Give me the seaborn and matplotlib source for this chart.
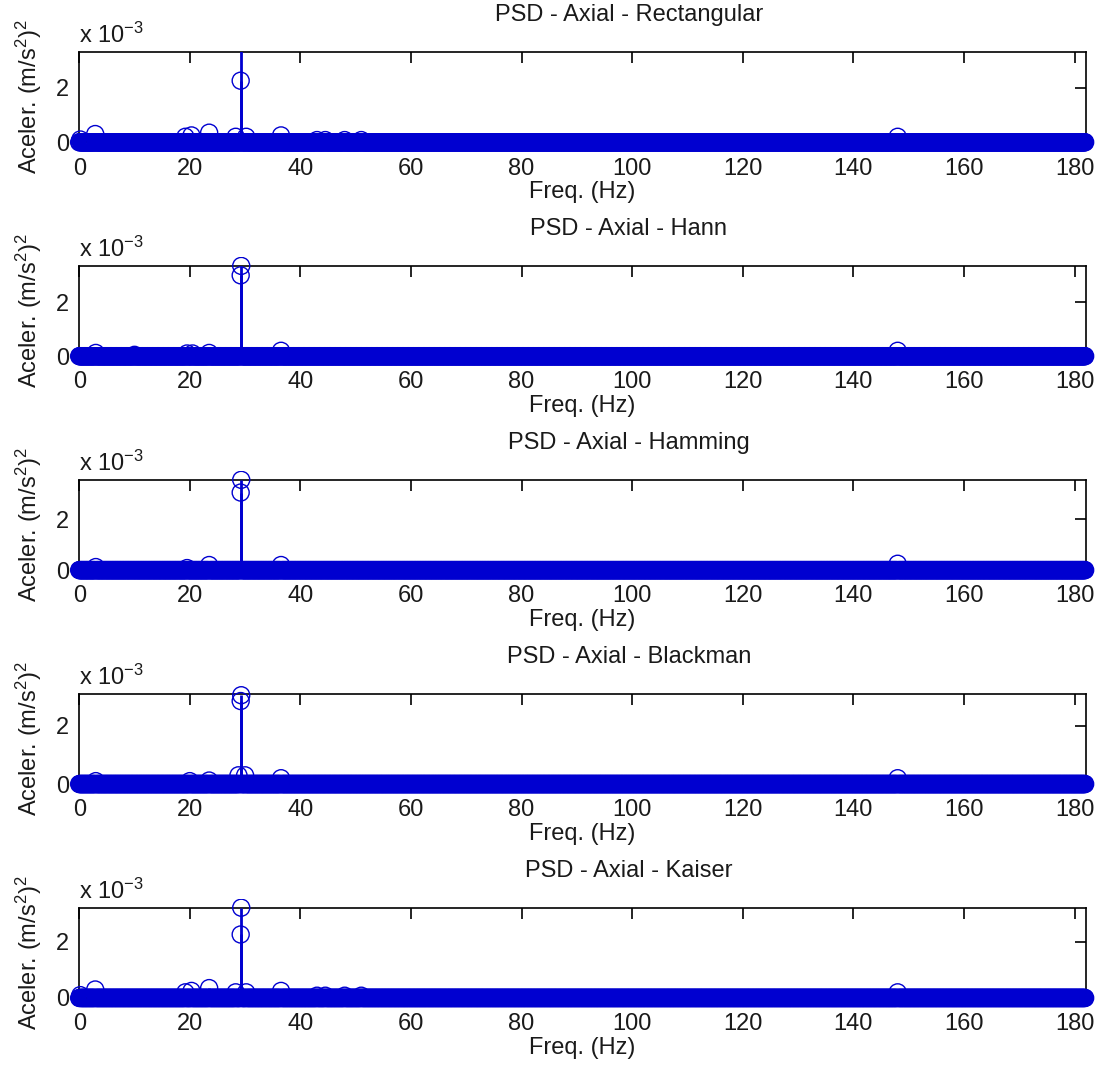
import numpy as np
import pandas as pd
import matplotlib
matplotlib.use('Agg')
import matplotlib.pyplot as plt
from matplotlib.patches import Rectangle
import seaborn as sns

# ------------------------------------------------------------
# data (PSD values in units of 1e-3 (m/s^2)^2)
# ------------------------------------------------------------
freq_step = 0.1          # Hz, spectral resolution
n_bins = 1820            # 0 ... 181.9 Hz

windows = ['Rectangular', 'Hann', 'Hamming', 'Blackman', 'Kaiser']

# (frequency, value) of the bins that stand out from the floor
peaks_rect = [(0.2, 0.10), (2.9, 0.30), (19.2, 0.20), (20.3, 0.25), (23.5, 0.35),
              (28.3, 0.20), (29.2, 2.25), (29.3, 4.00), (30.2, 0.20), (36.5, 0.25),
              (43.0, 0.08), (44.5, 0.08), (48.0, 0.08), (51.0, 0.08), (148.0, 0.20)]
peaks_hann = [(3.0, 0.12), (10.0, 0.05), (19.5, 0.10), (20.5, 0.10), (23.5, 0.12),
              (29.2, 3.00), (29.3, 3.35), (36.5, 0.20), (148.0, 0.20)]
peaks_hamming = [(3.0, 0.12), (19.5, 0.08), (23.5, 0.20), (29.2, 3.05), (29.3, 3.55),
                 (36.5, 0.20), (148.0, 0.25)]
peaks_blackman = [(3.0, 0.10), (20.0, 0.10), (23.5, 0.12), (28.8, 0.30), (29.2, 2.85),
                  (29.3, 3.05), (30.0, 0.30), (36.5, 0.20), (148.0, 0.20)]
peaks_kaiser = [(0.2, 0.10), (2.9, 0.30), (19.2, 0.20), (20.3, 0.25), (23.5, 0.35),
                (28.3, 0.20), (29.2, 2.25), (29.3, 3.20), (30.2, 0.20), (36.5, 0.25),
                (43.0, 0.08), (44.5, 0.08), (48.0, 0.08), (51.0, 0.08), (148.0, 0.20)]
all_peaks = [peaks_rect, peaks_hann, peaks_hamming, peaks_blackman, peaks_kaiser]

y_tops = [3.3, 3.35, 3.55, 3.1, 3.2]
x_ticks = [0, 20, 40, 60, 80, 100, 120, 140, 160, 180]
y_ticks = [0, 2]

freq = np.arange(n_bins) * freq_step

# ------------------------------------------------------------
# figure
# ------------------------------------------------------------
sns.set_style('white')
plt.rcParams['font.family'] = ['Liberation Sans', 'DejaVu Sans']
plt.rcParams['mathtext.fontset'] = 'custom'
plt.rcParams['mathtext.rm'] = 'Liberation Sans'
plt.rcParams['mathtext.it'] = 'Liberation Sans'

BLUE = '#0000d0'
TXT = '#1a1a1a'
FS = 17

fig, axes = plt.subplots(5, 1, figsize=(11, 10.74), dpi=100)
fig.subplots_adjust(left=0.072, right=0.987, top=0.9516, bottom=0.0708, hspace=1.37)

for ax, name, peaks, ytop in zip(axes, windows, all_peaks, y_tops):
    psd = np.zeros(n_bins)
    for f, v in peaks:
        psd[int(round(f / freq_step))] = v
    df = pd.DataFrame({'freq': freq, 'psd': psd})

    ax.vlines(df['freq'], 0, df['psd'], color=BLUE, lw=2.0, zorder=3)
    sns.scatterplot(data=df, x='freq', y='psd', ax=ax, marker='o', s=150,
                    facecolor='none', edgecolor=BLUE, linewidth=1.0, legend=False,
                    zorder=3)
    clip = Rectangle((-0.02, -0.25), 1.04, 1.35, transform=ax.transAxes)
    ax.collections[-1].set_clip_path(clip)

    ax.set_xlim(0, 182)
    ax.set_ylim(0, ytop)
    ax.set_xticks(x_ticks)
    ax.set_yticks(y_ticks)
    ax.tick_params(direction='in', length=8, width=1.2, top=True, right=True,
                   labelsize=FS, colors='black', labelcolor=TXT)
    ax.tick_params(axis='x', pad=11)
    ax.tick_params(axis='y', pad=7)
    for sp in ax.spines.values():
        sp.set_visible(True)
        sp.set_color('black')
        sp.set_linewidth(1.2)
        sp.set_zorder(2)
    ax.set_title(f'PSD - Axial - {name}', fontsize=FS, pad=22, x=0.546, color=TXT)
    ax.set_xlabel('Freq. (Hz)', fontsize=FS, labelpad=1, color=TXT)
    ax.set_ylabel(r'Aceler. (m/s$^2$)$^2$', fontsize=FS, labelpad=9, color=TXT)
    ax.text(0.0, 1.04, r'x 10$^{-3}$', transform=ax.transAxes, fontsize=FS,
            ha='left', va='bottom', color=TXT)

fig.savefig('out.png', dpi=100, facecolor='white')
